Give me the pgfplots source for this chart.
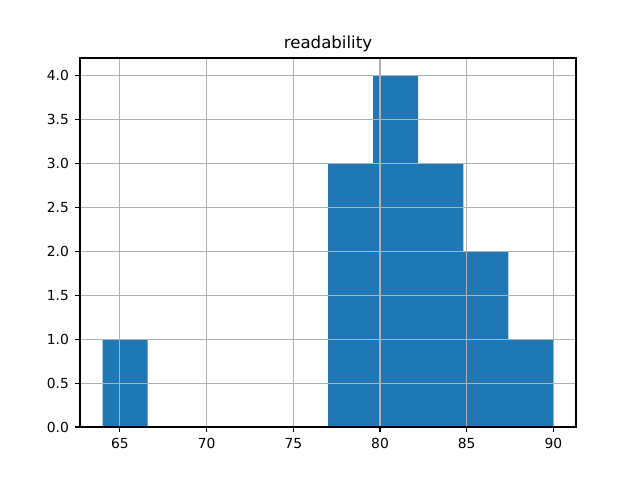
\documentclass[border=0pt]{standalone}
\usepackage{pgfplots}
\pgfplotsset{compat=1.18}
\usepackage{fontspec}
\setmainfont{DejaVu Sans}
\definecolor{mplblue}{HTML}{1F77B4}
\definecolor{mplgrid}{HTML}{B0B0B0}
\begin{document}
\begin{tikzpicture}
\useasboundingbox (-0.8in,-0.53in) rectangle (5.6in,4.27in);
\begin{axis}[
  at={(0,0)}, anchor=south west,
  scale only axis,
  width=4.96in, height=3.69in,
  xmin=62.7, xmax=91.3,
  ymin=0, ymax=4.2,
  xtick={65,70,75,80,85,90},
  ytick={0,0.5,1,1.5,2,2.5,3,3.5,4},
  yticklabel style={/pgf/number format/fixed,/pgf/number format/fixed zerofill,/pgf/number format/precision=1, xshift=-1bp},
  /pgf/number format/assume math mode=true,
  tick label style={font=\fontsize{10}{12}\selectfont},
  tick align=outside,
  tick pos=left,
  major tick length=3.5bp,
  every tick/.style={black, line width=0.8bp},
  axis line style={black, line width=0.8bp},
  grid=major,
  major grid style={mplgrid, line width=0.8bp},
  axis on top,
  title={readability},
  title style={font=\fontsize{12}{14}\selectfont, yshift=-5bp},
  xticklabel style={yshift=-1bp},
]
\addplot[ybar interval, fill=mplblue, draw=none] coordinates {
(64,1) (66.6,0) (69.2,0) (71.8,0) (74.4,0) (77,3) (79.6,4) (82.2,3) (84.8,2) (87.4,1) (90,1)
};
\end{axis}
\end{tikzpicture}
\end{document}
